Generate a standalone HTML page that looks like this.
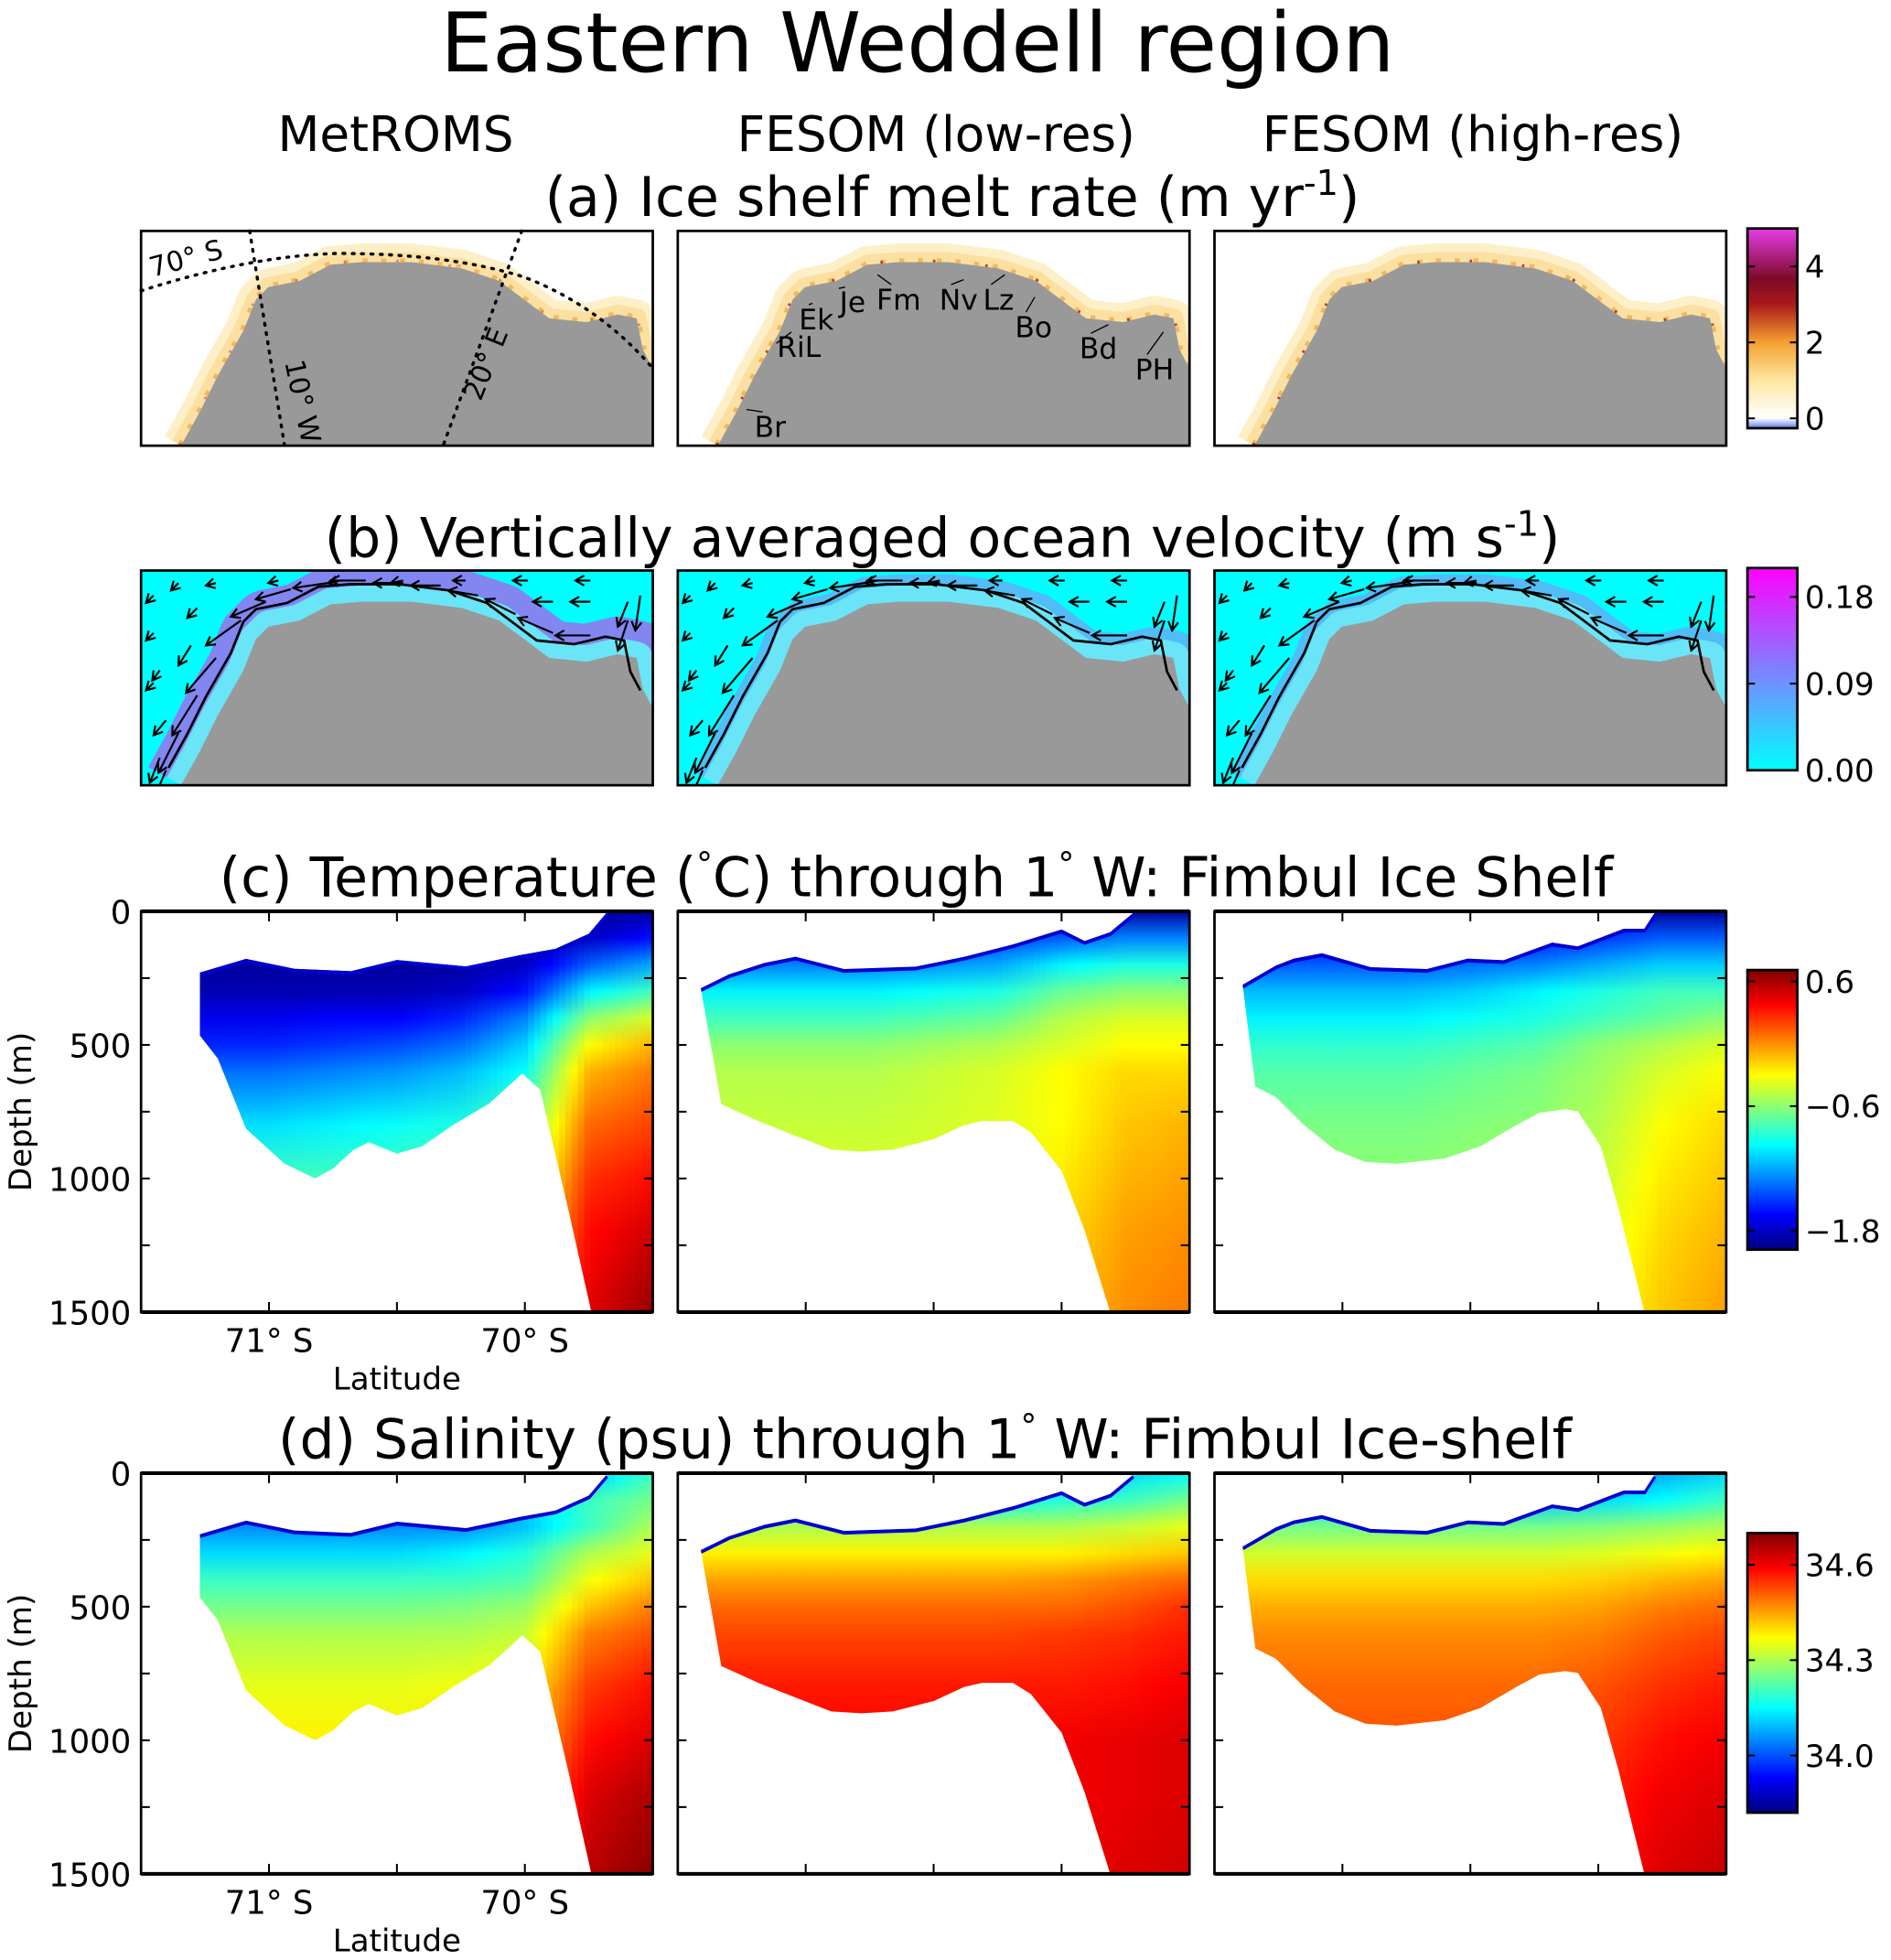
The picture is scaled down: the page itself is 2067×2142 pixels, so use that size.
<!DOCTYPE html>
<html><head><meta charset="utf-8"><style>
html,body{margin:0;padding:0;background:#fff}
svg{display:block}
text{font-family:"DejaVu Sans","Liberation Sans",sans-serif;fill:#000}
</style></head><body>
<svg id="fig" xmlns="http://www.w3.org/2000/svg" width="2067" height="2142" viewBox="0 0 1515 1570">
<defs id="defs"></defs>
<text x="735" y="57" font-size="66" text-anchor="middle">Eastern Weddell region</text>
<text x="317" y="121" font-size="39" text-anchor="middle">MetROMS</text>
<text x="750" y="121" font-size="39" text-anchor="middle">FESOM (low-res)</text>
<text x="1180" y="121" font-size="39" text-anchor="middle">FESOM (high-res)</text>
<text x="763" y="173" font-size="44" text-anchor="middle">(a) Ice shelf melt rate (m yr<tspan font-size="28" dy="-17">-1</tspan><tspan dy="17">)</tspan></text>
<text x="755" y="446" font-size="44" text-anchor="middle">(b) Vertically averaged ocean velocity (m s<tspan font-size="28" dy="-17">-1</tspan><tspan dy="17">)</tspan></text>
<text x="734" y="718" font-size="44" text-anchor="middle">(c) Temperature (<tspan font-size="26" dy="-17">°</tspan><tspan dy="17">C) through 1</tspan><tspan font-size="26" dy="-17">°</tspan><tspan dy="17"> W: Fimbul Ice Shelf</tspan></text>
<text x="741" y="1168" font-size="44" text-anchor="middle">(d) Salinity (psu) through 1<tspan font-size="26" dy="-17">°</tspan><tspan dy="17"> W: Fimbul Ice-shelf</tspan></text>
<g id="content"></g>
</svg>
<script>
// ---------- data ----------
const depthLevels=[0,100,200,300,400,500,600,800,1000,1200,1500];
const latLevels=[71.5,71.25,71.0,70.75,70.5,70.25,70.0,69.75,69.5];
const depthTicks=[0,500,1000,1500];
const latTicks=[71,70.5,70];
const latTickLabels=["71° S","","70° S"];
const metTopLat=[71.27,71.09,70.90,70.68,70.50,70.23,70.02,69.88,69.75,69.68];
const metTopDep=[229,178,215,224,182,206,164,140,84,5];
const metBotLat=[71.27,71.20,71.09,70.94,70.82,70.75,70.67,70.61,70.50,70.40,70.28,70.14,70.01,69.94,69.83,69.74];
const metBotDep=[465,551,813,944,1000,963,893,864,907,879,799,720,607,668,1117,1500];
const lowTopLat=[71.41,71.30,71.16,71.04,70.85,70.57,70.38,70.19,70.00,69.91,69.81,69.72];
const lowTopDep=[288,236,193,170,216,207,170,124,68,111,78,6];
const lowBotLat=[71.41,71.33,71.18,71.04,70.90,70.78,70.66,70.50,70.38,70.31,70.19,70.12,70.00,69.91,69.81];
const lowBotDep=[288,722,787,840,892,899,892,853,800,785,785,827,971,1194,1500];
const highTopLat=[71.39,71.26,71.19,71.08,70.89,70.67,70.51,70.37,70.18,70.08,69.90,69.82,69.78];
const highTopDep=[275,203,177,157,209,216,177,183,117,131,65,65,6];
const highBotLat=[71.39,71.34,71.26,71.15,71.03,70.91,70.79,70.60,70.46,70.32,70.23,70.13,70.08,69.99,69.92,69.82];
const highBotDep=[275,656,695,800,892,938,945,925,879,800,754,741,748,879,1115,1500];
const tempMet=[
[-1.9,-1.9,-1.9,-1.9,-1.9,-1.9,-1.9,-1.9,-1.9],
[-1.9,-1.9,-1.9,-1.9,-1.9,-1.9,-1.9,-1.8,-1.6],
[-1.9,-1.9,-1.9,-1.9,-1.9,-1.9,-1.8,-1.4,-1.2],
[-1.85,-1.85,-1.85,-1.85,-1.85,-1.8,-1.6,-1.0,-0.8],
[-1.7,-1.7,-1.7,-1.65,-1.65,-1.55,-1.3,-0.6,-0.4],
[-1.55,-1.55,-1.55,-1.5,-1.45,-1.35,-1.1,-0.3,-0.1],
[-1.35,-1.35,-1.35,-1.3,-1.25,-1.15,-0.95,-0.1,0.05],
[-1.05,-1.05,-1.05,-1.0,-0.95,-0.9,-0.7,0.1,0.2],
[-0.8,-0.8,-0.8,-0.8,-0.78,-0.7,-0.5,0.25,0.35],
[-0.75,-0.75,-0.75,-0.75,-0.7,-0.6,-0.3,0.35,0.5],
[-0.7,-0.7,-0.7,-0.7,-0.6,-0.45,0.0,0.45,0.65]];
const tempLow=[
[-1.9,-1.9,-1.9,-1.9,-1.9,-1.9,-1.9,-1.9,-1.9],
[-1.6,-1.6,-1.6,-1.6,-1.6,-1.5,-1.4,-1.3,-1.3],
[-1.3,-1.3,-1.3,-1.3,-1.25,-1.2,-1.0,-0.9,-0.9],
[-1.0,-1.0,-1.0,-1.0,-0.95,-0.9,-0.7,-0.6,-0.6],
[-0.8,-0.8,-0.8,-0.8,-0.75,-0.7,-0.5,-0.4,-0.4],
[-0.6,-0.6,-0.6,-0.6,-0.55,-0.5,-0.4,-0.3,-0.3],
[-0.5,-0.5,-0.5,-0.5,-0.45,-0.4,-0.3,-0.2,-0.2],
[-0.45,-0.45,-0.45,-0.45,-0.42,-0.38,-0.3,-0.15,-0.1],
[-0.4,-0.4,-0.4,-0.4,-0.38,-0.33,-0.25,-0.1,-0.05],
[-0.38,-0.38,-0.38,-0.38,-0.35,-0.3,-0.2,-0.05,0.0],
[-0.35,-0.35,-0.35,-0.35,-0.32,-0.27,-0.15,0.0,0.05]];
const tempHigh=[
[-1.9,-1.9,-1.9,-1.9,-1.9,-1.9,-1.9,-1.9,-1.9],
[-1.7,-1.7,-1.7,-1.7,-1.7,-1.6,-1.5,-1.4,-1.4],
[-1.4,-1.4,-1.4,-1.4,-1.35,-1.3,-1.2,-1.1,-1.1],
[-1.15,-1.15,-1.15,-1.15,-1.1,-1.0,-0.9,-0.8,-0.8],
[-1.0,-1.0,-1.0,-1.0,-0.95,-0.9,-0.8,-0.7,-0.6],
[-0.85,-0.85,-0.85,-0.85,-0.8,-0.75,-0.6,-0.5,-0.4],
[-0.75,-0.75,-0.75,-0.75,-0.7,-0.65,-0.55,-0.4,-0.3],
[-0.65,-0.65,-0.65,-0.65,-0.62,-0.6,-0.5,-0.3,-0.2],
[-0.6,-0.6,-0.6,-0.6,-0.58,-0.55,-0.45,-0.25,-0.15],
[-0.55,-0.55,-0.55,-0.55,-0.53,-0.5,-0.4,-0.2,-0.1],
[-0.5,-0.5,-0.5,-0.5,-0.48,-0.45,-0.35,-0.15,-0.05]];
const saltMet=[
[34.0,34.0,34.0,34.0,34.0,34.0,34.0,34.1,34.2],
[34.0,34.0,34.0,34.0,34.0,34.0,34.1,34.2,34.25],
[34.05,34.05,34.05,34.05,34.05,34.05,34.1,34.2,34.3],
[34.12,34.12,34.12,34.12,34.12,34.14,34.18,34.3,34.35],
[34.2,34.2,34.2,34.2,34.2,34.2,34.22,34.36,34.42],
[34.25,34.25,34.25,34.25,34.25,34.26,34.28,34.42,34.48],
[34.3,34.3,34.3,34.3,34.3,34.3,34.32,34.48,34.52],
[34.35,34.35,34.35,34.35,34.35,34.36,34.38,34.54,34.58],
[34.38,34.38,34.38,34.38,34.38,34.4,34.42,34.58,34.62],
[34.4,34.4,34.4,34.4,34.4,34.42,34.46,34.62,34.66],
[34.42,34.42,34.42,34.42,34.43,34.45,34.5,34.65,34.69]];
const saltLow=[
[34.0,34.0,34.0,34.0,34.0,34.0,34.05,34.12,34.15],
[34.15,34.15,34.15,34.15,34.15,34.15,34.18,34.2,34.25],
[34.3,34.3,34.3,34.3,34.3,34.3,34.3,34.32,34.35],
[34.38,34.38,34.38,34.38,34.38,34.38,34.38,34.4,34.42],
[34.45,34.45,34.45,34.45,34.45,34.45,34.46,34.48,34.5],
[34.5,34.5,34.5,34.5,34.5,34.5,34.5,34.52,34.55],
[34.53,34.53,34.53,34.53,34.53,34.53,34.54,34.55,34.57],
[34.57,34.57,34.57,34.57,34.57,34.57,34.57,34.58,34.6],
[34.59,34.59,34.59,34.59,34.59,34.59,34.6,34.61,34.62],
[34.6,34.6,34.6,34.6,34.6,34.6,34.6,34.61,34.62],
[34.6,34.6,34.6,34.6,34.6,34.6,34.6,34.62,34.63]];
const saltHigh=[
[34.0,34.0,34.0,34.0,34.0,34.0,34.02,34.08,34.12],
[34.1,34.1,34.1,34.1,34.1,34.1,34.12,34.15,34.2],
[34.25,34.25,34.25,34.25,34.25,34.25,34.26,34.28,34.3],
[34.33,34.33,34.33,34.33,34.33,34.33,34.34,34.36,34.38],
[34.4,34.4,34.4,34.4,34.4,34.4,34.41,34.43,34.45],
[34.44,34.44,34.44,34.44,34.44,34.44,34.45,34.48,34.5],
[34.47,34.47,34.47,34.47,34.47,34.47,34.48,34.51,34.53],
[34.5,34.5,34.5,34.5,34.5,34.5,34.52,34.55,34.57],
[34.52,34.52,34.52,34.52,34.52,34.52,34.54,34.58,34.6],
[34.54,34.54,34.54,34.54,34.54,34.54,34.56,34.6,34.62],
[34.56,34.56,34.56,34.56,34.56,34.56,34.58,34.62,34.64]];
const tempRange=[-1.98,0.71];
const tempCbTicks=[0.6,-0.6,-1.8];
const tempCbLabels=["0.6","\u22120.6","\u22121.8"];
const saltRange=[33.82,34.70];
const saltCbTicks=[34.6,34.3,34.0];
const saltCbLabels=["34.6","34.3","34.0"];
const meltRange=[-0.26,5.0];
const meltCbTicks=[4,2,0];
const meltCbLabels=["4","2","0"];
const velRange=[0,0.21];
const velCbTicks=[0.18,0.09,0.00];
const velCbLabels=["0.18","0.09","0.00"];
const coastX=[32,47,62,82,92,102,127,152,177,217,257,287,307,327,357,382,397,402,410];
const coastY=[172,145,115,80,55,45,40,27,25,25,30,40,55,70,73,67,70,95,110];
const arrowX=[20,30,45,60,80,100,120,150,180,210,240,270,300,330,360,390,400,10,10,10,60,110,160,210,260,310,360,20,330,360,390,15,40,30,15,45];
const arrowY=[160,130,100,70,40,25,15,10,8,10,12,20,35,50,52,40,20,20,50,90,10,8,8,8,8,8,8,120,25,25,25,150,60,10,80,30];
const arrowU=[-6,-8,-10,-12,-14,-14,-14,-14,-14,-12,-12,-12,-12,-14,-14,-4,-2,-3,-3,-3,-4,-4,-5,-5,-5,-6,-6,-5,-8,-8,-4,-4,-5,-3,-3,-4];
const arrowV=[14,16,16,14,10,6,4,2,0,0,0,-2,-6,-6,0,12,14,3,3,3,1,1,1,1,0,0,0,6,0,0,10,10,8,3,4,4];

// ---------- helpers ----------
const NS="http://www.w3.org/2000/svg";
const content=document.getElementById('content');
const defs=document.getElementById('defs');
function mk(tag,attrs,parent){const e=document.createElementNS(NS,tag);for(const k in attrs)e.setAttribute(k,attrs[k]);(parent||content).appendChild(e);return e;}
function clamp(v){return Math.max(0,Math.min(1,v));}
function jet(f){f=clamp(f);const r=clamp(1.5-Math.abs(4*f-3)),g=clamp(1.5-Math.abs(4*f-2)),b=clamp(1.5-Math.abs(4*f-1));return `rgb(${Math.round(r*255)},${Math.round(g*255)},${Math.round(b*255)})`;}
function stopsColor(stops,f){f=clamp(f);for(let i=1;i<stops.length;i++){if(f<=stops[i][0]){const a=stops[i-1],b=stops[i];const t=(f-a[0])/(b[0]-a[0]||1);return `rgb(${Math.round(a[1]+(b[1]-a[1])*t)},${Math.round(a[2]+(b[2]-a[2])*t)},${Math.round(a[3]+(b[3]-a[3])*t)})`;}}const l=stops[stops.length-1];return `rgb(${l[1]},${l[2]},${l[3]})`;}
const meltStops=[[0,90,120,230],[0.05,255,255,255],[0.24,253,231,160],[0.43,245,160,48],[0.62,170,25,25],[0.75,125,10,40],[1,230,60,230]];
const coolStops=[[0,0,255,255],[1,255,0,255]];
let gid=0;

function colorbar(x,y,w,h,name,colorFn,range,ticks,labels){
  const g=mk('linearGradient',{id:'cb'+(++gid),x1:0,y1:1,x2:0,y2:0},defs);
  for(let i=0;i<=40;i++){mk('stop',{offset:i/40,'stop-color':colorFn(i/40)},g);}
  const r=mk('rect',{x:x,y:y,width:w,height:h,fill:`url(#cb${gid})`,stroke:'#000','stroke-width':2});
  
  
  ticks.forEach((t,i)=>{
    const ty=y+h-(t-range[0])/(range[1]-range[0])*h;
    mk('line',{x1:x,y1:ty,x2:x+6,y2:ty,stroke:'#000','stroke-width':1.5});
    mk('line',{x1:x+w-6,y1:ty,x2:x+w,y2:ty,stroke:'#000','stroke-width':1.5});
    const tx=mk('text',{x:x+w+6,y:ty+9,'font-size':25});
    tx.textContent=labels[i];
    
    
  });
}

function mapPanel(px,py,kind,idx){
  const w=410,h=172;
  const cid='mc'+(++gid);
  const cp=mk('clipPath',{id:cid},defs);mk('rect',{x:px,y:py,width:w,height:h},cp);
  const g=mk('g',{'clip-path':`url(#${cid})`});
  
  
  mk('rect',{x:px,y:py,width:w,height:h,fill:kind==='melt'?'#fff':'#00ffff'},g);
  const pts=coastX.map((cx,i)=>`${px+cx},${py+coastY[i]}`);
  const line=pts.join(' ');
  if(kind==='melt'){
    mk('polyline',{points:line,fill:'none',stroke:'#fdf0c8','stroke-width':30,'stroke-linejoin':'round'},g);
    mk('polyline',{points:line,fill:'none',stroke:'#f9d890','stroke-width':16,'stroke-linejoin':'round',opacity:0.7},g);
    mk('polyline',{points:line,fill:'none',stroke:'#ec9a34','stroke-width':6,'stroke-linejoin':'round','stroke-dasharray':'4 11',opacity:0.6},g);
    mk('polyline',{points:line,fill:'none',stroke:'#a01818','stroke-width':4,'stroke-dasharray':'2 40',opacity:idx===0?0.4:0.8},g);
  } else {
    mk('polyline',{points:line,fill:'none',stroke:idx===0?'#9a70ee':'#5fb0f5','stroke-width':idx===0?60:44,'stroke-linejoin':'round',opacity:0.85},g);
    mk('polyline',{points:line,fill:'none',stroke:'#6ae5f8','stroke-width':26,'stroke-linejoin':'round'},g);
  }
  const land=mk('polygon',{points:line+` ${px+w},${py+h} ${px+32},${py+h}`,fill:'#999999'},g);
  
  
  if(kind==='vel'){
    const sp=coastX.map((cx,i)=>`${px+cx-10},${py+coastY[i]-14}`).join(' ');
    mk('polyline',{points:sp,fill:'none',stroke:'#000','stroke-width':2},g);
    arrowX.forEach((ax,i)=>{
      const x0=px+ax,y0=py+arrowY[i],u=arrowU[i]*2,v=arrowV[i]*2;
      const x1=x0+u,y1=y0+v;const L=Math.hypot(u,v)||1;const ux=u/L,uy=v/L;
      const a=mk('path',{d:`M${x0},${y0}L${x1},${y1}M${x1-ux*7-uy*4},${y1-uy*7+ux*4}L${x1},${y1}L${x1-ux*7+uy*4},${y1-uy*7-ux*4}`,fill:'none',stroke:'#000','stroke-width':1.6},g);
      
      
    });
  }
  mk('rect',{x:px,y:py,width:w,height:h,fill:'none',stroke:'#000','stroke-width':2});
}

function interp(xs,ys,x){
  if(x>=xs[0])return ys[0];
  for(let i=1;i<xs.length;i++){if(x>=xs[i]){const t=(xs[i-1]-x)/(xs[i-1]-xs[i]);return ys[i-1]+(ys[i]-ys[i-1])*t;}}
  return ys[ys.length-1];
}

function section(px,py,name,topLat,topDep,botLat,botDep,field,colorFn,range,first){
  const w=410,h=321;
  const xOf=lat=>px+(71.5-lat)/2*w;
  const yOf=d=>py+d/1500*h;
  const cid='sc'+(++gid);
  const cp=mk('clipPath',{id:cid},defs);
  let pts=topLat.map((l,i)=>`${xOf(l)},${yOf(topDep[i])}`);
  pts.push(`${xOf(69.5)},${yOf(0)}`,`${xOf(69.5)},${yOf(1500)}`);
  for(let i=botLat.length-1;i>=0;i--)pts.push(`${xOf(botLat[i])},${yOf(botDep[i])}`);
  mk('polygon',{points:pts.join(' ')},cp);
  const g=mk('g',{'clip-path':`url(#${cid})`});
  
  
  const step=5;
  for(let x=px;x<px+w;x+=step){
    const lat=71.5-((x+step/2-px)/w)*2;
    const gr=mk('linearGradient',{id:'sg'+(++gid),gradientUnits:'userSpaceOnUse',x1:0,y1:py,x2:0,y2:py+h},defs);
    depthLevels.forEach((d,r)=>{
      const v=interp(latLevels,field[r],lat);
      mk('stop',{offset:d/1500,'stop-color':colorFn((v-range[0])/(range[1]-range[0]))},gr);
    });
    mk('rect',{x:x,y:py,width:step+0.6,height:h,fill:`url(#sg${gid})`},g);
  }
  mk('polyline',{points:topLat.map((l,i)=>`${xOf(l)},${yOf(topDep[i])+1.5}`).join(' '),fill:'none',stroke:colorFn(0.08),'stroke-width':3},g);
  mk('rect',{x:px,y:py,width:w,height:h,fill:'none',stroke:'#000','stroke-width':2});
  mk('line',{x1:px,y1:py,x2:px+w,y2:py,stroke:'#000','stroke-width':3});
  mk('line',{x1:px,y1:py+h,x2:px+w,y2:py+h,stroke:'#000','stroke-width':3});
  for(let d=250;d<1500;d+=250){
    mk('line',{x1:px,y1:yOf(d),x2:px+7,y2:yOf(d),stroke:'#000','stroke-width':1.5});
    mk('line',{x1:px+w-7,y1:yOf(d),x2:px+w,y2:yOf(d),stroke:'#000','stroke-width':1.5});
  }
  latTicks.forEach((l,i)=>{
    mk('line',{x1:xOf(l),y1:py+h,x2:xOf(l),y2:py+h-8,stroke:'#000','stroke-width':1.5});
    mk('line',{x1:xOf(l),y1:py,x2:xOf(l),y2:py+8,stroke:'#000','stroke-width':1.5});
    if(first&&latTickLabels[i]){
      const t=mk('text',{x:xOf(l),y:py+h+32,'font-size':26,'text-anchor':'middle'});
      t.textContent=latTickLabels[i];
      
      
    }
  });
  if(first){
    depthTicks.forEach(d=>{
      const t=mk('text',{x:px-8,y:yOf(d)+10,'font-size':26,'text-anchor':'end'});
      t.textContent=String(d);
      
      
    });
    const xl=mk('text',{x:px+205,y:py+h+62,'font-size':25,'text-anchor':'middle'});
    xl.textContent='Latitude';
    
    
    const yl=mk('text',{x:0,y:0,'font-size':25,'text-anchor':'middle',transform:`translate(25,${py+h/2}) rotate(-90)`});
    yl.textContent='Depth (m)';
    
    
  }
}

// ---------- draw ----------
const colX=[113,543,973];
colX.forEach((x,i)=>mapPanel(x,185,'melt',i));
colX.forEach((x,i)=>mapPanel(x,457,'vel',i));
colorbar(1400,183,40,160,'melt-rate',f=>stopsColor(meltStops,f),meltRange,meltCbTicks,meltCbLabels);
colorbar(1400,455,40,162,'velocity',f=>stopsColor(coolStops,f),velRange,velCbTicks,velCbLabels);

mk('path',{d:'M113,233 Q200,205 270,203 Q360,203 420,222 Q480,245 523,295',fill:'none',stroke:'#000','stroke-width':2.5,'stroke-dasharray':'1.5 6','stroke-linecap':'round'});
mk('line',{x1:200,y1:185,x2:228,y2:357,stroke:'#000','stroke-width':2.5,'stroke-dasharray':'1.5 6','stroke-linecap':'round'});
mk('line',{x1:418,y1:185,x2:355,y2:357,stroke:'#000','stroke-width':2.5,'stroke-dasharray':'1.5 6','stroke-linecap':'round'});
[['70° S',122,222,-15],['10° W',228,290,78],['20° E',385,322,-68]].forEach(a=>{
  const t=mk('text',{x:0,y:0,'font-size':22,transform:`translate(${a[1]},${a[2]}) rotate(${a[3]})`});
  t.textContent=a[0];
  
  
});
[['Br',617,350,598,328],['RiL',640,286,622,275],['Ek',654,264,651,243],['Je',683,250,672,231],['Fm',720,248,703,220],['Nv',768,248,772,224],['Lz',800,248,805,220],['Bo',828,270,829,238],['Bd',880,287,888,260],['PH',925,304,932,266]].forEach(a=>{
  mk('line',{x1:a[1]-6,y1:a[2]-20,x2:a[3],y2:a[4],stroke:'#000','stroke-width':1});
  const t=mk('text',{x:a[1],y:a[2],'font-size':23,'text-anchor':'middle'});
  t.textContent=a[0];
  
  
});

const geo=[[metTopLat,metTopDep,metBotLat,metBotDep],[lowTopLat,lowTopDep,lowBotLat,lowBotDep],[highTopLat,highTopDep,highBotLat,highBotDep]];
const tFields=[tempMet,tempLow,tempHigh];
const sFields=[saltMet,saltLow,saltHigh];
colX.forEach((x,i)=>section(x,730,'temperature-section-'+i,geo[i][0],geo[i][1],geo[i][2],geo[i][3],tFields[i],jet,tempRange,i===0));
colX.forEach((x,i)=>section(x,1180,'salinity-section-'+i,geo[i][0],geo[i][1],geo[i][2],geo[i][3],sFields[i],jet,saltRange,i===0));
colorbar(1400,777,40,224,'temperature',jet,tempRange,tempCbTicks,tempCbLabels);
colorbar(1400,1228,40,224,'salinity',jet,saltRange,saltCbTicks,saltCbLabels);
</script>
</body></html>
